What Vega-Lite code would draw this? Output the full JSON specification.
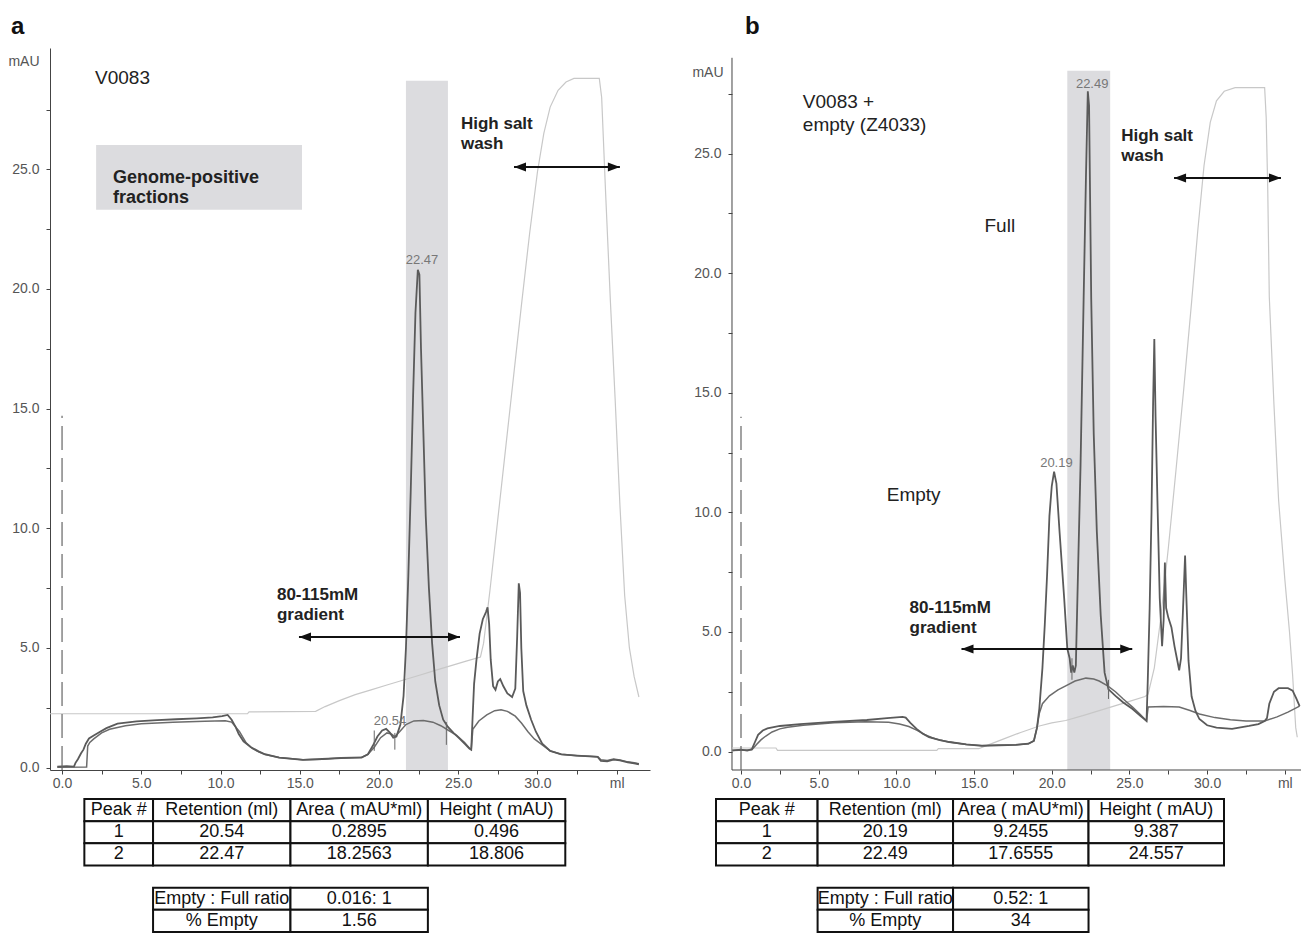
{
"$schema": "https://vega.github.io/schema/vega-lite/v6.json",
"background": "white",
"padding": {"left": 7, "top": 15, "right": 0, "bottom": 0},
"config": {
  "view": {"stroke": null},
  "font": "Liberation Sans",
  "axis": {"domainColor": "#444", "tickColor": "#444", "labelColor": "#555", "labelFont": "Liberation Sans", "labelFontSize": 14, "grid": false, "tickSize": 4, "labelFlush": false, "labelOverlap": false, "titleColor": "#555", "titleFont": "Liberation Sans", "titleFontSize": 14, "titleFontWeight": "normal"}
},
"datasets": {
  "aT1": [{"x":-0.3,"y":0.04},{"x":0.3,"y":0.06},{"x":0.75,"y":0.04},{"x":0.85,"y":0.2},{"x":1.0,"y":0.35},{"x":1.2,"y":0.6},{"x":1.35,"y":0.75},{"x":1.5,"y":1.0},{"x":1.7,"y":1.22},{"x":2.0,"y":1.34},{"x":2.4,"y":1.5},{"x":2.8,"y":1.65},{"x":3.5,"y":1.84},{"x":4.7,"y":1.93},{"x":6.0,"y":1.98},{"x":7.2,"y":2.02},{"x":8.5,"y":2.06},{"x":9.5,"y":2.1},{"x":10.1,"y":2.15},{"x":10.45,"y":2.2},{"x":10.7,"y":2.0},{"x":10.95,"y":1.7},{"x":11.15,"y":1.4},{"x":11.45,"y":1.1},{"x":11.9,"y":0.86},{"x":12.4,"y":0.68},{"x":12.8,"y":0.56},{"x":13.7,"y":0.42},{"x":15.2,"y":0.32},{"x":16.4,"y":0.36},{"x":17.6,"y":0.4},{"x":18.9,"y":0.42},{"x":19.3,"y":0.56},{"x":19.6,"y":0.9},{"x":19.9,"y":1.3},{"x":20.2,"y":1.55},{"x":20.45,"y":1.62},{"x":20.7,"y":1.45},{"x":20.9,"y":1.25},{"x":21.1,"y":1.3},{"x":21.35,"y":1.8},{"x":21.55,"y":3.0},{"x":21.7,"y":5.0},{"x":21.85,"y":8.0},{"x":22.0,"y":11.5},{"x":22.15,"y":15.5},{"x":22.3,"y":19.0},{"x":22.45,"y":20.8},{"x":22.55,"y":20.6},{"x":22.65,"y":17.5},{"x":22.8,"y":14.0},{"x":22.95,"y":10.5},{"x":23.15,"y":7.5},{"x":23.35,"y":5.2},{"x":23.55,"y":3.6},{"x":23.8,"y":2.6},{"x":24.05,"y":2.0},{"x":24.35,"y":1.7},{"x":24.7,"y":1.45},{"x":25.1,"y":1.2},{"x":25.4,"y":1.0},{"x":25.7,"y":0.8},{"x":25.82,"y":0.75},{"x":25.9,"y":2.0},{"x":26.0,"y":3.5},{"x":26.15,"y":4.5},{"x":26.35,"y":5.6},{"x":26.55,"y":6.2},{"x":26.75,"y":6.5},{"x":26.85,"y":6.7},{"x":26.95,"y":6.0},{"x":27.05,"y":4.5},{"x":27.2,"y":3.4},{"x":27.35,"y":3.25},{"x":27.5,"y":3.6},{"x":27.65,"y":3.7},{"x":27.85,"y":3.4},{"x":28.1,"y":3.1},{"x":28.4,"y":2.95},{"x":28.6,"y":3.3},{"x":28.72,"y":5.5},{"x":28.82,"y":7.7},{"x":28.9,"y":7.3},{"x":28.98,"y":5.0},{"x":29.1,"y":3.2},{"x":29.3,"y":2.6},{"x":29.6,"y":2.0},{"x":29.9,"y":1.5},{"x":30.3,"y":1.0},{"x":30.8,"y":0.7},{"x":31.5,"y":0.55},{"x":32.5,"y":0.5},{"x":33.3,"y":0.47},{"x":33.8,"y":0.45},{"x":34.0,"y":0.28},{"x":34.4,"y":0.26},{"x":34.8,"y":0.33},{"x":35.2,"y":0.3},{"x":35.7,"y":0.22},{"x":36.1,"y":0.18},{"x":36.4,"y":0.14}],
  "aT2": [{"x":-0.3,"y":0.02},{"x":1.55,"y":0.03},{"x":1.62,"y":0.9},{"x":1.75,"y":1.05},{"x":2.0,"y":1.2},{"x":2.5,"y":1.45},{"x":3.0,"y":1.6},{"x":4.0,"y":1.75},{"x":5.0,"y":1.83},{"x":7.0,"y":1.9},{"x":9.0,"y":1.94},{"x":10.3,"y":1.96},{"x":10.7,"y":1.9},{"x":11.2,"y":1.5},{"x":11.6,"y":1.05},{"x":12.0,"y":0.8},{"x":12.4,"y":0.66},{"x":12.8,"y":0.55},{"x":13.7,"y":0.42},{"x":15.2,"y":0.33},{"x":16.4,"y":0.35},{"x":17.6,"y":0.41},{"x":18.9,"y":0.43},{"x":19.3,"y":0.55},{"x":19.7,"y":0.85},{"x":20.1,"y":1.25},{"x":20.5,"y":1.45},{"x":20.8,"y":1.4},{"x":21.0,"y":1.3},{"x":21.3,"y":1.5},{"x":21.7,"y":1.8},{"x":22.2,"y":1.95},{"x":22.8,"y":1.97},{"x":23.4,"y":1.9},{"x":23.9,"y":1.75},{"x":24.4,"y":1.55},{"x":24.9,"y":1.35},{"x":25.4,"y":1.05},{"x":25.7,"y":0.82},{"x":25.82,"y":0.75},{"x":25.92,"y":1.6},{"x":26.3,"y":1.95},{"x":26.8,"y":2.2},{"x":27.3,"y":2.38},{"x":27.7,"y":2.42},{"x":28.1,"y":2.35},{"x":28.6,"y":2.15},{"x":29.0,"y":1.85},{"x":29.4,"y":1.5},{"x":29.8,"y":1.2},{"x":30.3,"y":0.95},{"x":30.8,"y":0.7},{"x":31.5,"y":0.56},{"x":32.5,"y":0.5},{"x":33.3,"y":0.47},{"x":33.8,"y":0.45},{"x":34.0,"y":0.33},{"x":34.4,"y":0.3},{"x":34.8,"y":0.36},{"x":35.2,"y":0.32},{"x":35.7,"y":0.24},{"x":36.1,"y":0.2},{"x":36.4,"y":0.16}],
  "aC": [{"x":-0.76,"y":2.25},{"x":11.7,"y":2.25},{"x":11.8,"y":2.33},{"x":16.0,"y":2.35},{"x":16.6,"y":2.55},{"x":17.5,"y":2.8},{"x":18.5,"y":3.05},{"x":19.5,"y":3.25},{"x":20.5,"y":3.45},{"x":21.5,"y":3.65},{"x":22.5,"y":3.85},{"x":23.5,"y":4.05},{"x":24.5,"y":4.25},{"x":25.5,"y":4.45},{"x":26.4,"y":4.62},{"x":26.6,"y":5.2},{"x":27.0,"y":7.4},{"x":27.5,"y":10.4},{"x":28.0,"y":13.4},{"x":28.5,"y":16.4},{"x":29.0,"y":19.4},{"x":29.5,"y":22.3},{"x":30.0,"y":24.9},{"x":30.4,"y":26.5},{"x":30.8,"y":27.6},{"x":31.3,"y":28.3},{"x":31.8,"y":28.65},{"x":32.3,"y":28.8},{"x":33.9,"y":28.8},{"x":34.05,"y":28.0},{"x":34.3,"y":24.0},{"x":34.6,"y":19.5},{"x":34.9,"y":15.4},{"x":35.2,"y":11.0},{"x":35.5,"y":7.2},{"x":35.8,"y":5.0},{"x":36.1,"y":3.8},{"x":36.4,"y":2.95}],
  "bT1": [{"x":-0.55,"y":0.05},{"x":0.0,"y":0.08},{"x":0.4,"y":0.04},{"x":0.7,"y":0.1},{"x":0.9,"y":0.4},{"x":1.1,"y":0.7},{"x":1.4,"y":0.88},{"x":1.7,"y":0.97},{"x":2.5,"y":1.07},{"x":3.8,"y":1.15},{"x":5.9,"y":1.24},{"x":8.1,"y":1.32},{"x":9.4,"y":1.4},{"x":10.4,"y":1.45},{"x":10.6,"y":1.42},{"x":10.9,"y":1.2},{"x":11.3,"y":0.95},{"x":11.7,"y":0.75},{"x":12.1,"y":0.6},{"x":12.8,"y":0.48},{"x":13.4,"y":0.4},{"x":14.5,"y":0.3},{"x":15.5,"y":0.24},{"x":16.6,"y":0.26},{"x":17.7,"y":0.28},{"x":18.5,"y":0.33},{"x":18.85,"y":0.45},{"x":19.05,"y":1.0},{"x":19.2,"y":1.8},{"x":19.4,"y":3.5},{"x":19.55,"y":5.3},{"x":19.7,"y":7.4},{"x":19.85,"y":9.85},{"x":20.0,"y":11.1},{"x":20.15,"y":11.7},{"x":20.3,"y":11.2},{"x":20.5,"y":9.2},{"x":20.8,"y":6.4},{"x":21.0,"y":4.3},{"x":21.15,"y":3.9},{"x":21.25,"y":3.3},{"x":21.35,"y":3.6},{"x":21.45,"y":3.3},{"x":21.55,"y":3.6},{"x":21.7,"y":7.8},{"x":21.85,"y":11.9},{"x":22.05,"y":18.9},{"x":22.2,"y":24.0},{"x":22.32,"y":27.6},{"x":22.4,"y":27.0},{"x":22.54,"y":18.9},{"x":22.7,"y":13.3},{"x":22.9,"y":9.2},{"x":23.15,"y":5.7},{"x":23.4,"y":3.3},{"x":23.65,"y":2.6},{"x":24.1,"y":2.33},{"x":24.6,"y":2.05},{"x":25.2,"y":1.78},{"x":25.7,"y":1.5},{"x":26.1,"y":1.28},{"x":26.18,"y":3.0},{"x":26.3,"y":6.0},{"x":26.42,"y":10.0},{"x":26.52,"y":14.5},{"x":26.6,"y":17.25},{"x":26.68,"y":14.0},{"x":26.8,"y":10.5},{"x":26.95,"y":6.4},{"x":27.1,"y":4.4},{"x":27.2,"y":5.5},{"x":27.28,"y":7.9},{"x":27.36,"y":6.0},{"x":27.5,"y":5.6},{"x":27.7,"y":5.2},{"x":27.9,"y":4.4},{"x":28.05,"y":3.9},{"x":28.2,"y":3.4},{"x":28.32,"y":3.9},{"x":28.45,"y":6.0},{"x":28.58,"y":8.2},{"x":28.66,"y":6.5},{"x":28.8,"y":3.8},{"x":29.0,"y":2.3},{"x":29.25,"y":1.7},{"x":29.5,"y":1.36},{"x":30.0,"y":1.1},{"x":30.6,"y":1.0},{"x":31.6,"y":0.95},{"x":32.7,"y":1.07},{"x":33.3,"y":1.15},{"x":33.7,"y":1.28},{"x":33.85,"y":1.4},{"x":34.0,"y":2.0},{"x":34.3,"y":2.5},{"x":34.6,"y":2.65},{"x":35.2,"y":2.65},{"x":35.5,"y":2.55},{"x":35.75,"y":2.2},{"x":35.95,"y":1.9}],
  "bT2": [{"x":-0.55,"y":0.04},{"x":0.7,"y":0.08},{"x":1.0,"y":0.3},{"x":1.3,"y":0.5},{"x":1.6,"y":0.65},{"x":2.0,"y":0.82},{"x":2.5,"y":0.95},{"x":3.0,"y":1.02},{"x":4.0,"y":1.1},{"x":6.0,"y":1.2},{"x":8.0,"y":1.25},{"x":9.5,"y":1.23},{"x":10.2,"y":1.15},{"x":10.8,"y":1.05},{"x":11.3,"y":0.9},{"x":11.8,"y":0.72},{"x":12.3,"y":0.58},{"x":12.8,"y":0.48},{"x":13.4,"y":0.4},{"x":14.5,"y":0.3},{"x":15.5,"y":0.25},{"x":16.6,"y":0.27},{"x":17.7,"y":0.29},{"x":18.5,"y":0.33},{"x":18.85,"y":0.45},{"x":19.05,"y":1.0},{"x":19.2,"y":1.6},{"x":19.4,"y":2.0},{"x":19.85,"y":2.33},{"x":20.4,"y":2.58},{"x":20.9,"y":2.75},{"x":21.5,"y":2.95},{"x":22.2,"y":3.07},{"x":22.7,"y":3.03},{"x":23.05,"y":2.95},{"x":23.6,"y":2.75},{"x":24.1,"y":2.5},{"x":24.6,"y":2.2},{"x":25.2,"y":1.86},{"x":25.7,"y":1.55},{"x":26.1,"y":1.28},{"x":26.2,"y":1.86},{"x":27.2,"y":1.88},{"x":28.2,"y":1.86},{"x":28.9,"y":1.72},{"x":29.5,"y":1.57},{"x":30.5,"y":1.42},{"x":31.5,"y":1.33},{"x":32.5,"y":1.28},{"x":33.7,"y":1.28},{"x":34.5,"y":1.45},{"x":35.2,"y":1.65},{"x":35.95,"y":1.9}],
  "bC": [{"x":-0.58,"y":0.15},{"x":2.25,"y":0.15},{"x":2.35,"y":0.05},{"x":12.6,"y":0.05},{"x":12.7,"y":0.12},{"x":15.3,"y":0.12},{"x":16.0,"y":0.3},{"x":17.0,"y":0.55},{"x":18.0,"y":0.8},{"x":19.2,"y":1.07},{"x":20.0,"y":1.2},{"x":20.9,"y":1.3},{"x":22.0,"y":1.5},{"x":23.0,"y":1.7},{"x":24.0,"y":1.9},{"x":25.0,"y":2.1},{"x":26.0,"y":2.3},{"x":26.2,"y":2.4},{"x":26.6,"y":3.5},{"x":27.0,"y":5.5},{"x":27.5,"y":8.5},{"x":28.0,"y":11.8},{"x":28.5,"y":15.2},{"x":29.0,"y":18.8},{"x":29.4,"y":21.8},{"x":29.8,"y":24.5},{"x":30.2,"y":26.3},{"x":30.6,"y":27.2},{"x":31.1,"y":27.6},{"x":31.8,"y":27.75},{"x":33.7,"y":27.75},{"x":33.8,"y":26.5},{"x":33.9,"y":23.5},{"x":34.0,"y":19.0},{"x":34.3,"y":14.5},{"x":34.6,"y":10.5},{"x":35.0,"y":7.2},{"x":35.3,"y":5.0},{"x":35.5,"y":3.2},{"x":35.7,"y":1.0},{"x":35.8,"y":0.6}],
  "tabA": [
    {"r":"h","s":"u01","e":"u02","m":"u02","t":"Peak #"},
    {"r":"h","s":"u03","e":"u06","m":"u05","t":"Retention (ml)"},
    {"r":"h","s":"u07","e":"u10","m":"u09","t":"Area ( mAU*ml)"},
    {"r":"h","s":"u11","e":"u14","m":"u13","t":"Height ( mAU)"},
    {"r":"r1","s":"u01","e":"u02","m":"u02","t":"1"},
    {"r":"r1","s":"u03","e":"u06","m":"u05","t":"20.54"},
    {"r":"r1","s":"u07","e":"u10","m":"u09","t":"0.2895"},
    {"r":"r1","s":"u11","e":"u14","m":"u13","t":"0.496"},
    {"r":"r2","s":"u01","e":"u02","m":"u02","t":"2"},
    {"r":"r2","s":"u03","e":"u06","m":"u05","t":"22.47"},
    {"r":"r2","s":"u07","e":"u10","m":"u09","t":"18.2563"},
    {"r":"r2","s":"u11","e":"u14","m":"u13","t":"18.806"},
    {"r":"t1","s":"u03","e":"u06","m":"u05","t":"Empty : Full ratio"},
    {"r":"t1","s":"u07","e":"u10","m":"u09","t":"0.016: 1"},
    {"r":"t2","s":"u03","e":"u06","m":"u05","t":"% Empty"},
    {"r":"t2","s":"u07","e":"u10","m":"u09","t":"1.56"}
  ],
  "tabB": [
    {"r":"h","s":"u01","e":"u06","m":"u04","t":"Peak #"},
    {"r":"h","s":"u07","e":"u14","m":"u11","t":"Retention (ml)"},
    {"r":"h","s":"u15","e":"u22","m":"u19","t":"Area ( mAU*ml)"},
    {"r":"h","s":"u23","e":"u30","m":"u27","t":"Height ( mAU)"},
    {"r":"r1","s":"u01","e":"u06","m":"u04","t":"1"},
    {"r":"r1","s":"u07","e":"u14","m":"u11","t":"20.19"},
    {"r":"r1","s":"u15","e":"u22","m":"u19","t":"9.2455"},
    {"r":"r1","s":"u23","e":"u30","m":"u27","t":"9.387"},
    {"r":"r2","s":"u01","e":"u06","m":"u04","t":"2"},
    {"r":"r2","s":"u07","e":"u14","m":"u11","t":"22.49"},
    {"r":"r2","s":"u15","e":"u22","m":"u19","t":"17.6555"},
    {"r":"r2","s":"u23","e":"u30","m":"u27","t":"24.557"},
    {"r":"t1","s":"u07","e":"u14","m":"u11","t":"Empty : Full ratio"},
    {"r":"t1","s":"u15","e":"u22","m":"u19","t":"0.52: 1"},
    {"r":"t2","s":"u07","e":"u14","m":"u11","t":"% Empty"},
    {"r":"t2","s":"u15","e":"u22","m":"u19","t":"34"}
  ]
},
"bounds": "flush",
"align": "all",
"columns": 2,
"spacing": {"row": 29, "column": 66},
"concat": [
  {
    "width": 600, "height": 722,
    "title": {"text": "a", "anchor": "start", "frame": "group", "dx": -39, "offset": -10, "baseline": "alphabetic", "fontSize": 24, "fontWeight": "bold", "font": "Liberation Sans", "color": "#111"},
    "encoding": {
      "x": {"field": "x", "type": "quantitative", "scale": {"domain": [-0.76, 37.1], "nice": false, "zero": false},
            "axis": {"title": null, "values": [0,2.5,5,7.5,10,12.5,15,17.5,20,22.5,25,27.5,30,32.5,35], "labelExpr": "datum.value == 35 ? 'ml' : (datum.value % 5 == 0 ? format(datum.value, '.1f') : '')", "labelPadding": 2}},
      "y": {"field": "y", "type": "quantitative", "scale": {"domain": [-0.1, 30.07], "nice": false, "zero": false},
            "axis": {"title": "mAU", "titleAngle": 0, "titleAlign": "right", "titleBaseline": "middle", "titleX": -11, "titleY": 13, "values": [0,2.5,5,7.5,10,12.5,15,17.5,20,22.5,25,27.5], "labelExpr": "datum.value % 5 == 0 ? format(datum.value, '.1f') : ''", "labelPadding": 7}}
    },
    "layer": [
      {"data": {"values": [{"x": 21.7, "x2": 24.35, "y": -0.1, "y2": 28.7}, {"x": 2.15, "x2": 15.14, "y": 23.31, "y2": 26.02}]},
       "mark": {"type": "rect", "color": "#dcdcdf"},
       "encoding": {"x2": {"field": "x2"}, "y2": {"field": "y2"}}},
      {"data": {"name": "aC"}, "mark": {"type": "line", "color": "#c8c8c8", "strokeWidth": 1.2}, "encoding": {}},
      {"data": {"name": "aT2"}, "mark": {"type": "line", "color": "#6c6c6c", "strokeWidth": 1.5}, "encoding": {}},
      {"data": {"name": "aT1"}, "mark": {"type": "line", "color": "#5a5a5a", "strokeWidth": 1.8}, "encoding": {}},
      {"data": {"values": [{"x": 0, "y": -0.1, "y2": 14.7}]},
       "mark": {"type": "rule", "color": "#666", "strokeWidth": 1.2, "strokeDash": [24, 8]},
       "encoding": {"y2": {"field": "y2"}}},
      {"data": {"values": [{"x": 19.7, "y": 0.7, "y2": 1.55}, {"x": 21.0, "y": 0.75, "y2": 1.45}, {"x": 24.25, "y": 0.95, "y2": 1.9}]},
       "mark": {"type": "rule", "color": "#666", "strokeWidth": 1},
       "encoding": {"y2": {"field": "y2"}}},
      {"data": {"values": [{"x": 2.08, "y": 28.83, "label": "V0083"}]},
       "mark": {"type": "text", "align": "left", "baseline": "middle", "fontSize": 19, "color": "#222"},
       "encoding": {"text": {"field": "label"}}},
      {"data": {"values": [{"x": 3.22, "y": 24.64, "label": "Genome-positive\nfractions"}]},
       "mark": {"type": "text", "align": "left", "baseline": "middle", "fontSize": 18, "fontWeight": "bold", "color": "#222", "lineBreak": "\n", "lineHeight": 20},
       "encoding": {"text": {"field": "label"}}},
      {"data": {"values": [{"x": 25.17, "y": 26.9, "label": "High salt\nwash"}, {"x": 13.56, "y": 7.23, "label": "80-115mM\ngradient"}]},
       "mark": {"type": "text", "align": "left", "baseline": "middle", "fontSize": 17, "fontWeight": "bold", "color": "#222", "lineBreak": "\n", "lineHeight": 20},
       "encoding": {"text": {"field": "label"}}},
      {"data": {"values": [{"x": 22.71, "y": 21.2, "label": "22.47"}, {"x": 20.69, "y": 1.96, "label": "20.54"}]},
       "mark": {"type": "text", "align": "center", "baseline": "middle", "fontSize": 13, "color": "#777"},
       "encoding": {"text": {"field": "label"}}},
      {"data": {"values": [{"x": 14.95, "x2": 25.11, "y": 5.46}, {"x": 28.52, "x2": 35.2, "y": 25.1}]},
       "layer": [
         {"mark": {"type": "rule", "color": "#111", "strokeWidth": 2}, "encoding": {"x2": {"field": "x2"}}},
         {"mark": {"type": "point", "shape": "M0,0L-1.6,-0.6L-1.6,0.6Z", "filled": true, "size": 225, "color": "#111", "opacity": 1}, "encoding": {"x": {"field": "x2", "type": "quantitative"}}},
         {"mark": {"type": "point", "shape": "M0,0L1.6,-0.6L1.6,0.6Z", "filled": true, "size": 225, "color": "#111", "opacity": 1}, "encoding": {}}
       ]}
    ]
  },
  {
    "width": 585, "height": 722,
    "title": {"text": "b", "anchor": "start", "frame": "group", "dx": 29, "offset": -10, "baseline": "alphabetic", "fontSize": 24, "fontWeight": "bold", "font": "Liberation Sans", "color": "#111"},
    "encoding": {
      "x": {"field": "x", "type": "quantitative", "scale": {"domain": [-1.609, 36.04], "nice": false, "zero": false},
            "axis": {"domain": false, "title": null, "values": [0,2.5,5,7.5,10,12.5,15,17.5,20,22.5,25,27.5,30,32.5,35], "labelExpr": "datum.value == 35 ? 'ml' : (datum.value % 5 == 0 ? format(datum.value, '.1f') : '')", "labelPadding": 2}},
      "y": {"field": "y", "type": "quantitative", "scale": {"domain": [-0.77, 29.41], "nice": false, "zero": false},
            "axis": {"domain": false, "offset": -16, "title": "mAU", "titleAngle": 0, "titleAlign": "right", "titleBaseline": "middle", "titleX": -9, "titleY": 24, "values": [0,2.5,5,7.5,10,12.5,15,17.5,20,22.5,25,27.5], "labelExpr": "datum.value % 5 == 0 ? format(datum.value, '.1f') : ''", "labelPadding": 7}}
    },
    "layer": [
      {"data": {"values": [{"x": 21.0, "x2": 23.76, "y": -0.77, "y2": 28.46}]},
       "mark": {"type": "rect", "color": "#dcdcdf"},
       "encoding": {"x2": {"field": "x2"}, "y2": {"field": "y2"}}},
      {"data": {"values": [{"x": -0.58, "y": -0.77, "y2": 29.0}]},
       "mark": {"type": "rule", "color": "#444", "strokeWidth": 1},
       "encoding": {"y2": {"field": "y2"}}},
      {"data": {"values": [{"x": -0.58, "x2": 36.04, "y": -0.77}]},
       "mark": {"type": "rule", "color": "#444", "strokeWidth": 1},
       "encoding": {"x2": {"field": "x2"}}},
      {"data": {"name": "bC"}, "mark": {"type": "line", "color": "#c8c8c8", "strokeWidth": 1.2}, "encoding": {}},
      {"data": {"name": "bT2"}, "mark": {"type": "line", "color": "#6c6c6c", "strokeWidth": 1.5}, "encoding": {}},
      {"data": {"name": "bT1"}, "mark": {"type": "line", "color": "#5a5a5a", "strokeWidth": 1.8}, "encoding": {}},
      {"data": {"values": [{"x": 0, "y": -0.77, "y2": 14.0}]},
       "mark": {"type": "rule", "color": "#666", "strokeWidth": 1.2, "strokeDash": [24, 8]},
       "encoding": {"y2": {"field": "y2"}}},
      {"data": {"values": [{"x": 21.3, "y": 3.0, "y2": 3.9}, {"x": 23.65, "y": 2.2, "y2": 3.0}]},
       "mark": {"type": "rule", "color": "#666", "strokeWidth": 1},
       "encoding": {"y2": {"field": "y2"}}},
      {"data": {"values": [{"x": 3.98, "y": 27.14, "label": "V0083 +\nempty (Z4033)"}, {"x": 15.67, "y": 21.97, "label": "Full"}, {"x": 9.38, "y": 10.73, "label": "Empty"}]},
       "mark": {"type": "text", "align": "left", "baseline": "middle", "fontSize": 19, "color": "#222", "lineBreak": "\n", "lineHeight": 23},
       "encoding": {"text": {"field": "label"}}},
      {"data": {"values": [{"x": 24.47, "y": 25.74, "label": "High salt\nwash"}, {"x": 10.85, "y": 6.02, "label": "80-115mM\ngradient"}]},
       "mark": {"type": "text", "align": "left", "baseline": "middle", "fontSize": 17, "fontWeight": "bold", "color": "#222", "lineBreak": "\n", "lineHeight": 20},
       "encoding": {"text": {"field": "label"}}},
      {"data": {"values": [{"x": 22.6, "y": 27.91, "label": "22.49"}, {"x": 20.3, "y": 12.06, "label": "20.19"}]},
       "mark": {"type": "text", "align": "center", "baseline": "middle", "fontSize": 13, "color": "#777"},
       "encoding": {"text": {"field": "label"}}},
      {"data": {"values": [{"x": 14.19, "x2": 25.18, "y": 4.29}, {"x": 27.87, "x2": 34.75, "y": 23.98}]},
       "layer": [
         {"mark": {"type": "rule", "color": "#111", "strokeWidth": 2}, "encoding": {"x2": {"field": "x2"}}},
         {"mark": {"type": "point", "shape": "M0,0L-1.6,-0.6L-1.6,0.6Z", "filled": true, "size": 225, "color": "#111", "opacity": 1}, "encoding": {"x": {"field": "x2", "type": "quantitative"}}},
         {"mark": {"type": "point", "shape": "M0,0L1.6,-0.6L1.6,0.6Z", "filled": true, "size": 225, "color": "#111", "opacity": 1}, "encoding": {}}
       ]}
    ]
  },
  {
    "width": 584, "height": 133,
    "data": {"name": "tabA"},
    "encoding": {
      "y": {"field": "r", "type": "nominal", "scale": {"domain": ["h","r1","r2","gap","t1","t2"], "paddingInner": 0, "paddingOuter": 0}, "axis": null}
    },
    "layer": [
      {"mark": {"type": "rect", "fill": "white", "stroke": "#111", "strokeWidth": 2},
       "encoding": {
         "x": {"field": "s", "type": "nominal", "bandPosition": 0, "scale": {"domain": ["p1","u01","u02","u03","u04","u05","u06","u07","u08","u09","u10","u11","u12","u13","u14","q1","q2"], "paddingInner": 0, "paddingOuter": 0}, "axis": null},
         "x2": {"field": "e", "bandPosition": 1}}},
      {"mark": {"type": "text", "fontSize": 18, "color": "#111", "align": "center", "baseline": "middle"},
       "encoding": {
         "x": {"field": "m", "type": "nominal", "bandPosition": 0, "axis": null},
         "text": {"field": "t"}}}
    ]
  },
  {
    "width": 508, "height": 133,
    "data": {"name": "tabB"},
    "encoding": {
      "y": {"field": "r", "type": "nominal", "scale": {"domain": ["h","r1","r2","gap","t1","t2"], "paddingInner": 0, "paddingOuter": 0}, "axis": null}
    },
    "layer": [
      {"mark": {"type": "rect", "fill": "white", "stroke": "#111", "strokeWidth": 2},
       "encoding": {
         "x": {"field": "s", "type": "nominal", "bandPosition": 0, "scale": {"domain": ["u01","u02","u03","u04","u05","u06","u07","u08","u09","u10","u11","u12","u13","u14","u15","u16","u17","u18","u19","u20","u21","u22","u23","u24","u25","u26","u27","u28","u29","u30"], "paddingInner": 0, "paddingOuter": 0}, "axis": null},
         "x2": {"field": "e", "bandPosition": 1}}},
      {"mark": {"type": "text", "fontSize": 18, "color": "#111", "align": "center", "baseline": "middle"},
       "encoding": {
         "x": {"field": "m", "type": "nominal", "bandPosition": 0, "axis": null},
         "text": {"field": "t"}}}
    ]
  }
]
}
